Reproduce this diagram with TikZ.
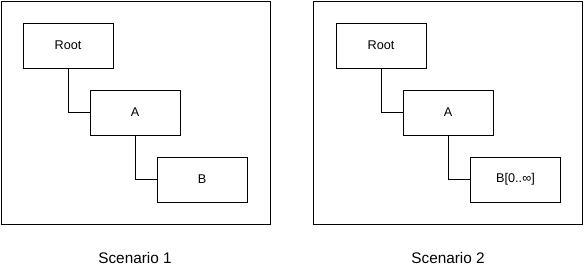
\documentclass[tikz,border=0pt]{standalone}
\usepackage{fontspec}
\setmainfont{Liberation Sans}
\usetikzlibrary{positioning}

\begin{document}
\begin{tikzpicture}[x=0.75pt, y=-0.75pt, line width=0.75pt,
        frame/.style={draw, minimum width=269*0.75pt, minimum height=223*0.75pt, inner sep=0pt},
        entity/.style={draw, minimum width=90*0.75pt, minimum height=45*0.75pt, inner sep=0pt, font=\fontsize{9.5}{11}\selectfont},
        caption/.style={font=\fontsize{11.5}{13}\selectfont}
    ]
        \useasboundingbox (0,0) rectangle (584,276);

        % 1. Scenario 1
        \node[frame] (frameone) at (135.5,112.5) {};
        \node[entity] (rootone) at (68,45.5) {Root};
        \node[entity] (aone) at (135,112.5) {A};
        \node[entity] (bone) at (202,179.5) {B};
        \node[caption] (capone) at (135,258) {Scenario 1};

        % 2. Scenario 2
        \node[frame] (frametwo) at (448,112.5) {};
        \node[entity] (roottwo) at (381,45.5) {Root};
        \node[entity] (atwo) at (448,112.5) {A};
        \node[entity] (btwo) at (515.5,179.5) {B[0..∞]};
        \node[caption] (captwo) at (448,258) {Scenario 2};

        % Connectors
        \draw (rootone.south) |- (aone.west);
        \draw (aone.south) |- (bone.west);
        \draw (roottwo.south) |- (atwo.west);
        \draw (atwo.south) |- (btwo.west);

    \end{tikzpicture}
\end{document}
